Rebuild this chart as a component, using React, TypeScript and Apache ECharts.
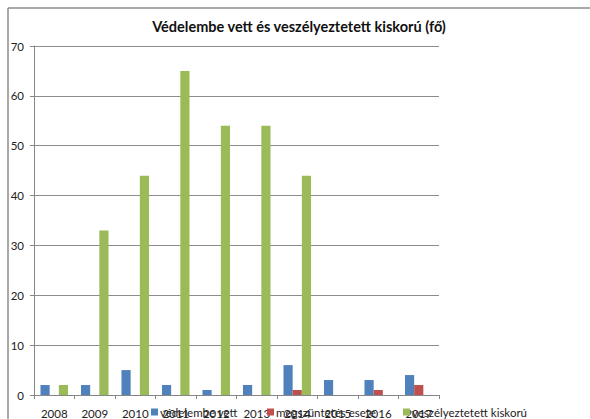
import React, { useEffect, useRef } from "react";
import * as echarts from "echarts";

const categories = ["2008", "2009", "2010", "2011", "2012", "2013", "2014", "2015", "2016", "2017"];
const vedelembeVett = [2, 2, 5, 2, 1, 2, 6, 3, 3, 4];
const megszuntetes = [0, 0, 0, 0, 0, 0, 1, 0, 1, 2];
const veszelyeztetett = [2, 33, 44, 65, 54, 54, 44, 0, 0, 0];
const seriesNames = ["védelembe vett", "megszüntetés esete", "veszélyeztetett kiskorú"];
const colors = ["#4F81BD", "#C0504D", "#9BBB59"];
const titleText = "Védelembe vett és veszélyeztetett kiskorú (fő)";

const FONT = "Lato";

export default function App() {
  const ref = useRef<HTMLDivElement>(null);
  useEffect(() => {
    if (!ref.current) return;
    const chart = echarts.init(ref.current, undefined, { renderer: "svg" });
    const legendBase = {
      orient: "horizontal",
      itemWidth: 7,
      itemHeight: 7,
      top: 406,
      padding: 0,
      icon: "rect",
      textStyle: { fontFamily: FONT, fontSize: 11.5, color: "#222", padding: [0, 0, 0, -3] },
    };
    chart.setOption({
      animation: false,
      backgroundColor: "#ffffff",
      title: {
        text: titleText,
        left: 299,
        top: 19,
        textAlign: "center",
        padding: 0,
        textStyle: { fontFamily: FONT, fontSize: 14.5, fontWeight: "bold", color: "#111" },
      },
      legend: [
        { ...legendBase, left: 151, data: [seriesNames[0]] },
        { ...legendBase, left: 267, data: [seriesNames[1]] },
        { ...legendBase, left: 403, data: [seriesNames[2]] },
      ],
      grid: { left: 34, right: 151, top: 46, bottom: 24, containLabel: false },
      xAxis: {
        type: "category",
        data: categories,
        axisLine: { lineStyle: { color: "#868686", width: 1 } },
        axisTick: { show: true, length: 4, lineStyle: { color: "#868686" } },
        axisLabel: { fontFamily: FONT, fontSize: 11.5, color: "#222", margin: 12 },
      },
      yAxis: {
        type: "value",
        min: 0,
        max: 70,
        interval: 10,
        axisLine: { show: true, lineStyle: { color: "#868686", width: 1 } },
        axisTick: { show: true, length: 4, lineStyle: { color: "#868686" } },
        axisLabel: { fontFamily: FONT, fontSize: 11.5, color: "#222", margin: 10 },
        splitLine: { lineStyle: { color: "#8c8c8c", width: 1 } },
      },
      series: [
        { name: seriesNames[0], type: "bar", data: vedelembeVett, itemStyle: { color: colors[0] }, barGap: "0%", barCategoryGap: "32%" },
        { name: seriesNames[1], type: "bar", data: megszuntetes, itemStyle: { color: colors[1] }, barGap: "0%", barCategoryGap: "32%" },
        { name: seriesNames[2], type: "bar", data: veszelyeztetett, itemStyle: { color: colors[2] }, barGap: "0%", barCategoryGap: "32%" },
      ],
      graphic: [
        { type: "line", shape: { x1: 8, y1: 8, x2: 590, y2: 8 }, style: { stroke: "#8c8c8c", lineWidth: 1.5 } },
        { type: "line", shape: { x1: 8, y1: 8, x2: 8, y2: 419 }, style: { stroke: "#8c8c8c", lineWidth: 1.5 } },
      ],
    });
    return () => chart.dispose();
  }, []);
  return (
    <div
      ref={ref}
      style={{ position: "absolute", left: 0, top: 0, width: 590, height: 419 }}
    />
  );
}
